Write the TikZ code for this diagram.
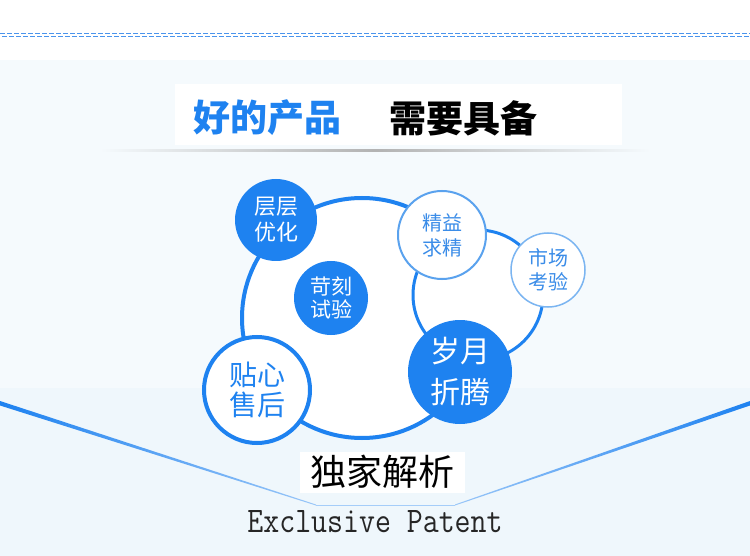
\documentclass[tikz,border=0pt]{standalone}
\usepackage{fontspec}
\newfontfamily\cjk{Noto Sans CJK SC}
\definecolor{mblue}{HTML}{1E82F0}
\definecolor{lblue}{HTML}{5AA2EE}
\definecolor{tblue}{HTML}{3A8CE8}
\definecolor{panel}{HTML}{F5FAFD}
\definecolor{panelb}{HTML}{EFF7FC}
\definecolor{dashblue}{HTML}{4A94EC}
\begin{document}
\begin{tikzpicture}[x=1pt,y=-1pt,
  bubble/.style={circle, inner sep=0pt, align=center},
  solidbubble/.style={bubble, fill=mblue, text=white},
  ringbubble/.style={bubble, fill=white, draw=mblue, text=mblue},
  fs/.style={font=\cjk\fontsize{#1}{#1}\selectfont}]
\useasboundingbox (0,0) rectangle (750,556);
\fill[white] (0,0) rectangle (750,556);
\fill[panel] (0,60) rectangle (750,556);
\fill[panelb] (0,388) rectangle (750,556);
% top dashed lines
\draw[dashblue, line width=1.1pt, dash pattern=on 5pt off 2pt] (0,33.5) -- (750,33.5);
\draw[dashblue, line width=1.1pt, dash pattern=on 5pt off 2pt] (2,36.8) -- (750,36.8);
% title
\fill[white] (175,84) rectangle (622,145);
\shade[left color=panel, right color=black!30] (100,149.5) rectangle (375,151.5);
\shade[left color=black!30, right color=panel] (375,149.5) rectangle (650,151.5);
\node[inner sep=0pt, anchor=west, text=mblue, font=\cjk\bfseries\fontsize{37}{37}\selectfont] (t1) at (193,118) {好的产品};
\node[inner sep=0pt, anchor=west, text=black, font=\cjk\bfseries\fontsize{37}{37}\selectfont] (t2) at (389,118) {需要具备};
% V lines
\shade[left color=mblue, right color=mblue!45] (0,401) -- (316,504.5) -- (316,505.5) -- (0,405.5) -- cycle;
\shade[left color=mblue!45, right color=mblue] (455,504.5) -- (750,401) -- (750,405.5) -- (455,505.5) -- cycle;
\draw[mblue!40, line width=1pt] (316,505) -- (455,505);
% circles
\node[bubble, fill=white, draw=mblue, line width=4pt, minimum size=240pt] (big) at (362,318) {};
\node[bubble, fill=white, draw=mblue, line width=3pt, minimum size=130pt] (rc) at (478,295) {};
\node[solidbubble, minimum size=82pt, fs=22] (c1) at (276,220) {层层\\[4pt]优化};
\node[solidbubble, minimum size=74pt, fs=21] (c2) at (331,298) {苛刻\\[2pt]试验};
\node[ringbubble, draw=lblue, text=tblue, line width=2pt, minimum size=88pt, fs=20] (c3) at (442,235) {精益\\[5pt]求精};
\node[ringbubble, draw=lblue!80, text=tblue, line width=1.5pt, minimum size=74pt, fs=20] (c4) at (548,270) {市场\\[4pt]考验};
\node[solidbubble, minimum size=104pt, fs=30] (c5) at (460,372) {岁月\\[11pt]折腾};
\node[ringbubble, line width=4pt, minimum size=106pt, fs=28] (c6) at (257,390) {贴心\\[2pt]售后};
% bottom labels
\fill[white] (300,452) rectangle (465,493);
\node[inner sep=0pt, text=black, font=\cjk\fontsize{36}{36}\selectfont] (t3) at (382,472) {独家解析};
\node[inner sep=0pt, text=black!85, font=\ttfamily\fontsize{36}{36}\selectfont] (t4) at (375,522) {\scalebox{0.86}[1]{Exclusive Patent}};
\end{tikzpicture}
\end{document}
